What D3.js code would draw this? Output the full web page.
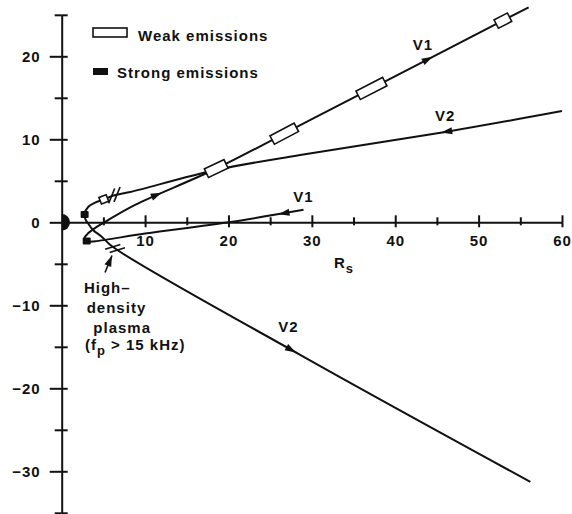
<!DOCTYPE html>
<html>
<head>
<meta charset="utf-8">
<script src="https://cdn.jsdelivr.net/npm/d3@7"></script>
<style>
  html, body { margin: 0; padding: 0; background: #fff; }
  svg { display: block; }
  text {
    font-family: "Liberation Sans", Arial, Helvetica, sans-serif;
    font-weight: bold;
    font-size: 15px;
    fill: #111;
    letter-spacing: 1px;
  }
</style>
</head>
<body>
<svg id="chart" width="572" height="514"></svg>
<script>
// Voyager 1 and Voyager 2 passes near Saturn, in Saturn radii (Rs), listed in time order
const v1Path = [[29.0, 1.5], [20.0, 0.0], [10.0, -1.35], [4.0, -2.28], [3.0, -2.3], [2.75, -1.85],
                [3.2, -1.3], [4.2, -0.55], [5.2, 0.05], [8.8, 2.1], [18.5, 6.45], [30.0, 12.42], [56.0, 25.9]];
const v2Path = [[60.0, 13.4], [46.2, 10.92], [28.6, 8.11], [18.5, 6.3], [8.2, 3.65], [6.2, 3.23],
                [5.07, 2.75], [4.0, 2.36], [3.2, 1.88], [2.73, 1.0], [2.85, 0.34], [3.15, -0.12],
                [3.75, -0.93], [4.8, -1.73], [6.15, -2.98], [28.6, -15.97], [56.2, -31.27]];

// Weak emission intervals along each pass: [leg, from Rs, to Rs]
const v1Weak = [["out", 17.35, 19.7], ["out", 25.25, 28.15], ["out", 35.55, 38.75], ["out", 52.1, 53.7]];
const v2Weak = [["in", 4.6, 5.5]];
// Strong emission spots [Rs x, Rs y]
const v1Strong = [[3.0, -2.25]];
const v2Strong = [[2.75, 0.95]];
// Direction-of-travel arrows: [leg, Rs at the arrow tip]
const v1Arrows = [["in", 26.0], ["out", 12.0], ["out", 44.5]];
const v2Arrows = [["in", 45.5], ["out", 28.1]];
// Crossings of the high-density plasma boundary on the Voyager 2 pass
const v2Boundary = [["in", 6.3], ["out", 6.4]];

// Axis ticks
const xTicks = [10, 20, 30, 40, 50, 60];
const xMinor = [5, 15, 25, 35, 45, 55];
const yTicks = [-30, -20, -10, 0, 10, 20];
const yMinor = [-35, -25, -15, -5, 5, 15, 25];

const ink = "#111";
const svg = d3.select("#chart");

const x = d3.scaleLinear().domain([0, 60]).range([61.7, 562]);
const y = d3.scaleLinear().domain([-35, 25]).range([512.8, 14.8]);
const ox = x(0), oy = y(0);

function styleAxis(g) {
  g.attr("font-size", null).attr("font-family", null);
  g.selectAll("path, line").attr("stroke", ink).attr("stroke-width", 2);
}
function noDomain(g) { g.select(".domain").remove(); }

// ---- y axis (ticks cross the axis line) ----
const gy = svg.append("g").attr("transform", `translate(${ox},0)`);
gy.call(d3.axisLeft(y).tickValues(yTicks).tickSize(12).tickPadding(9).tickSizeOuter(0)
  .tickFormat(d3.format("d")));
gy.append("g").call(d3.axisRight(y).tickValues(yTicks).tickSize(6).tickFormat("")).call(noDomain);
gy.append("g").call(d3.axisLeft(y).tickValues(yMinor).tickSize(7).tickFormat("")).call(noDomain);
gy.append("g").call(d3.axisRight(y).tickValues(yMinor).tickSize(6).tickFormat("")).call(noDomain);
styleAxis(gy);
gy.selectAll("g g").attr("font-size", null).attr("font-family", null);

// ---- x axis ----
const gx = svg.append("g").attr("transform", `translate(0,${oy})`);
gx.call(d3.axisBottom(x).tickValues(xTicks).tickSize(5).tickPadding(8).tickSizeOuter(0));
gx.append("g").call(d3.axisTop(x).tickValues(xTicks).tickSize(7).tickFormat("")).call(noDomain);
gx.append("g").call(d3.axisBottom(x).tickValues(xMinor).tickSize(3).tickFormat("")).call(noDomain);
gx.append("g").call(d3.axisTop(x).tickValues(xMinor).tickSize(5).tickFormat("")).call(noDomain);
styleAxis(gx);

// Axis title R_s
const rs = svg.append("text").attr("x", x(32.66)).attr("y", y(-5.54));
rs.append("tspan").text("R");
rs.append("tspan").attr("dy", 5).style("font-size", "13px").text("s");

// ---- Saturn (sunlit half disc of radius 1 Rs) ----
const rx = x(1) - x(0), ry = y(0) - y(1);
svg.append("path")
  .attr("d", `M${ox},${oy - ry} A${rx},${ry} 0 0 1 ${ox},${oy + ry} Z`)
  .attr("fill", ink);

// ---- trajectories ----
const line = d3.line().x(d => x(d[0])).y(d => y(d[1])).curve(d3.curveCatmullRom.alpha(0.5));

function drawPass(points) {
  const p = svg.append("path").datum(points)
    .attr("d", line).attr("fill", "none").attr("stroke", ink)
    .attr("stroke-width", 2).attr("stroke-linejoin", "round");
  const node = p.node();
  const L = node.getTotalLength(), N = 3000;
  const pts = d3.range(N + 1).map(i => {
    const q = node.getPointAtLength(L * i / N);
    return { l: L * i / N, x: q.x, y: q.y };
  });
  const tip = d3.minIndex(pts, d => d.x);
  return function at(leg, r) {
    const px = x(r);
    const seg = leg === "in" ? pts.slice(0, tip + 1) : pts.slice(tip);
    const best = d3.least(seg, d => Math.abs(d.x - px));
    const a = node.getPointAtLength(Math.max(0, best.l - 1.5));
    const b = node.getPointAtLength(Math.min(L, best.l + 1.5));
    return { x: best.x, y: best.y, angle: Math.atan2(b.y - a.y, b.x - a.x) * 180 / Math.PI };
  };
}

const atV1 = drawPass(v1Path);
const atV2 = drawPass(v2Path);

function drawWeak(at, list, thick) {
  list.forEach(([leg, r0, r1]) => {
    const p0 = at(leg, r0), p1 = at(leg, r1);
    const len = Math.hypot(p1.x - p0.x, p1.y - p0.y);
    const ang = Math.atan2(p1.y - p0.y, p1.x - p0.x) * 180 / Math.PI;
    svg.append("rect")
      .attr("transform", `translate(${(p0.x + p1.x) / 2},${(p0.y + p1.y) / 2}) rotate(${ang})`)
      .attr("x", -len / 2).attr("y", -thick / 2).attr("width", len).attr("height", thick)
      .attr("fill", "#fff").attr("stroke", ink).attr("stroke-width", 1.6);
  });
}
drawWeak(atV1, v1Weak, 9.5);
drawWeak(atV2, v2Weak, 7);

function drawStrong(list) {
  list.forEach(([sx, sy]) => {
    svg.append("rect")
      .attr("x", x(sx) - 4).attr("y", y(sy) - 3.5).attr("width", 8).attr("height", 7)
      .attr("rx", 1).attr("fill", ink);
  });
}
drawStrong(v1Strong);
drawStrong(v2Strong);

function arrowHead(px, py, ang) {
  svg.append("path")
    .attr("d", "M0,0 L-11,-3.6 L-11,3.6 Z")
    .attr("transform", `translate(${px},${py}) rotate(${ang})`)
    .attr("fill", ink);
}
function drawArrows(at, list) {
  list.forEach(([leg, r]) => {
    const p = at(leg, r);
    arrowHead(p.x, p.y, p.angle);
  });
}
drawArrows(atV1, v1Arrows);
drawArrows(atV2, v2Arrows);

// Boundary crossing marks: two short strokes across the path
const boundaryPts = v2Boundary.map(([leg, r]) => {
  const p = at2(leg, r);
  let a = p.angle;
  if (Math.abs(a) > 90) a += 180;
  const t = a * Math.PI / 180, m = (a - 52) * Math.PI / 180;
  [-2.8, 2.8].forEach(off => {
    const cx = p.x + off * Math.cos(t), cy = p.y + off * Math.sin(t);
    svg.append("line")
      .attr("x1", cx - 8 * Math.cos(m)).attr("y1", cy - 8 * Math.sin(m))
      .attr("x2", cx + 8 * Math.cos(m)).attr("y2", cy + 8 * Math.sin(m))
      .attr("stroke", ink).attr("stroke-width", 1.6);
  });
  return p;
});
function at2(leg, r) { return atV2(leg, r); }

// Pointer from the note to the outbound boundary crossing
const bOut = boundaryPts[1];
const tipX = bOut.x - 3, tipY = bOut.y + 7;
svg.append("line")
  .attr("x1", tipX - 7).attr("y1", tipY + 17).attr("x2", tipX).attr("y2", tipY)
  .attr("stroke", ink).attr("stroke-width", 1.6);
arrowHead(tipX, tipY, Math.atan2(-17, 7) * 180 / Math.PI);

// ---- labels ----
function label(lx, ly, txt) {
  return svg.append("text").attr("x", x(lx)).attr("y", y(ly)).text(txt);
}
label(42.1, 20.76, "V1");
label(44.77, 12.24, "V2");
label(27.78, 2.48, "V1");
label(25.98, -13.18, "V2");

label(2.67, -8.55, "High\u2013");
label(3.0, -10.96, "density");
label(3.79, -13.3, "plasma");
const fp = svg.append("text").attr("x", x(2.79)).attr("y", y(-15.39));
fp.append("tspan").text("(f");
fp.append("tspan").attr("dy", 5).style("font-size", "13px").text("p");
fp.append("tspan").attr("dy", -5).text(" > 15 kHz)");

// ---- legend ----
const lg = svg.append("g");
lg.append("rect").attr("x", 93).attr("y", 28).attr("width", 34).attr("height", 9)
  .attr("fill", "#fff").attr("stroke", ink).attr("stroke-width", 1.6);
lg.append("text").attr("x", 138).attr("y", 41).text("Weak emissions");
lg.append("rect").attr("x", 93).attr("y", 68).attr("width", 15).attr("height", 7).attr("fill", ink);
lg.append("text").attr("x", 117).attr("y", 77.5).text("Strong emissions");
</script>
</body>
</html>
